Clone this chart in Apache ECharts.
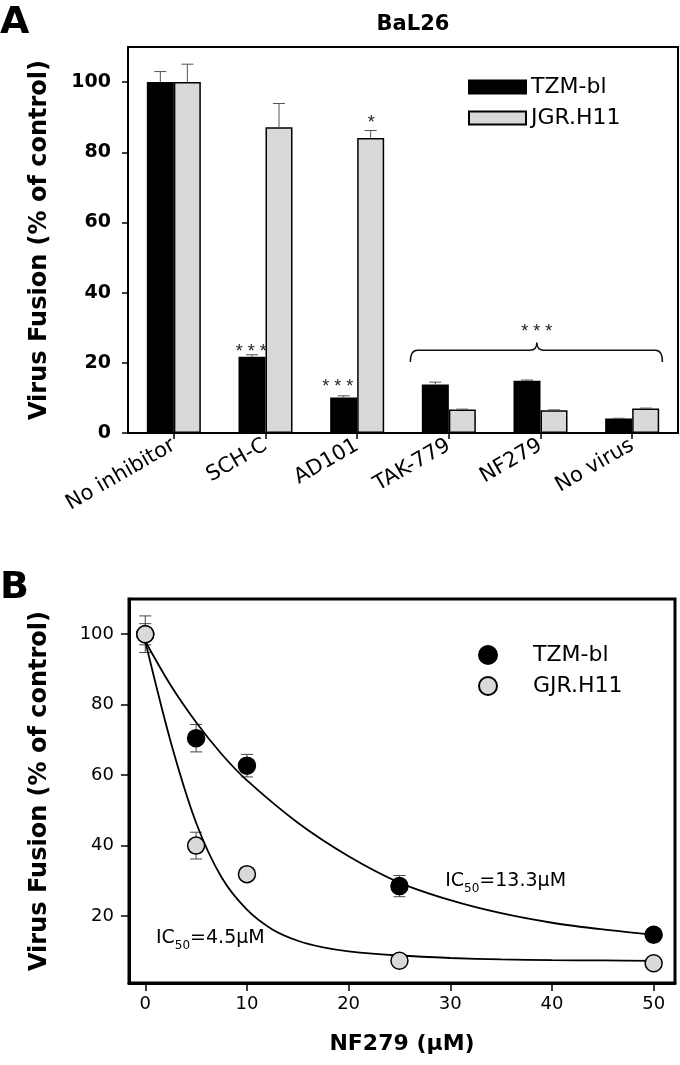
<!DOCTYPE html>
<html>
<head>
<meta charset="utf-8">
<script src="https://cdn.jsdelivr.net/npm/echarts@6/dist/echarts.min.js"></script>
<style>
  html, body { margin: 0; padding: 0; background: #fff; }
  #chart { width: 680px; height: 1065px; }
</style>
</head>
<body>
<div id="chart"></div>
<script>
// ---- panel A: BaL26, fusion by inhibitor ----
const categories = ['No inhibitor', 'SCH-C', 'AD101', 'TAK-779', 'NF279', 'No virus'];
const tzmFusion = [100, 21.7, 10.1, 13.8, 14.9, 4.1];
const tzmFusionErr = [3.0, 0.6, 0.5, 0.7, 0.2, 0.1];
const jgrFusion = [100, 87.1, 84.1, 6.7, 6.5, 7.0];
const jgrFusionErr = [5.1, 6.8, 2.1, 0.1, 0.1, 0.1];
const yTicksA = [0, 20, 40, 60, 80, 100];

// significance marks, in category-band units / % values
const starX = [1.345, 2.288, 2.653, 4.458];
const starY = [24.3, 14.1, 89.4, 29.8];
const starText = ['* * *', '* * *', '*', '* * *'];
// bracket over TAK-779..No virus: [left end, tip, right end] and [end level, bar level, tip level]
const bracketX = [3.08, 4.46, 5.83];
const bracketY = [20.2, 23.6, 25.8];

// ---- panel B: NF279 dose response ----
const doseUM = [0, 5, 10, 25, 50];
const tzmDose = [100, 70.5, 62.7, 28.5, 14.7];
const tzmDoseErr = [3.0, 3.9, 3.2, 3.0, 0.5];
const gjrDose = [100, 40.0, 31.9, 7.3, 6.6];
const gjrDoseErr = [5.2, 3.8, 0, 0, 0];
// fitted curves
const tzmFitX = [0, 2.5, 5, 7.5, 10, 15, 20, 25, 30, 35, 40, 45, 50];
const tzmFitY = [98, 85.5, 75, 66, 58.5, 46.5, 37, 29.5, 24.5, 20.8, 18.1, 16.2, 14.7];
const gjrFitX = [0, 2.5, 5, 7.5, 10, 12.5, 15, 17.5, 20, 25, 30, 35, 40, 45, 50];
const gjrFitY = [98, 69.5, 46.5, 31, 21.8, 16.2, 13, 11.1, 10, 8.8, 8.1, 7.7, 7.5, 7.4, 7.3];
const xTicksB = [0, 10, 20, 30, 40, 50];
const yTicksB = [20, 40, 60, 80, 100];
const ic50X = [29.5, 1.05];
const ic50Y = [29.3, 13.2];
const ic50Text = ['13.3', '4.5'];

const FONT = 'DejaVu Sans';
const BAR_W = 27;
const GRAY = '#d9d9d9';

const chart = echarts.init(document.getElementById('chart'));

function barErrors(vals, errs, side) {
  return {
    type: 'custom', xAxisIndex: 0, yAxisIndex: 0, z: 5, silent: true,
    data: vals.map((v, i) => [i, v, errs[i]]),
    renderItem(params, api) {
      const i = api.value(0), v = api.value(1), e = api.value(2);
      const p = api.coord([i, v]);
      const q = api.coord([i, v + e]);
      const x = p[0] + side * BAR_W / 2;
      const st = { stroke: '#555', lineWidth: 1 };
      return { type: 'group', children: [
        { type: 'line', shape: { x1: x, y1: p[1], x2: x, y2: q[1] }, style: st },
        { type: 'line', shape: { x1: x - 6, y1: q[1], x2: x + 6, y2: q[1] }, style: st }
      ] };
    }
  };
}

function pointErrors(ys, errs) {
  return {
    type: 'custom', xAxisIndex: 2, yAxisIndex: 1, z: 2, silent: true,
    data: doseUM.map((x, i) => [x, ys[i], errs[i]]),
    renderItem(params, api) {
      const x = api.value(0), y = api.value(1), e = api.value(2);
      if (!e) return null;
      const up = api.coord([x, y + e]);
      const dn = api.coord([x, y - e]);
      const st = { stroke: '#444', lineWidth: 1 };
      return { type: 'group', children: [
        { type: 'line', shape: { x1: up[0], y1: up[1], x2: dn[0], y2: dn[1] }, style: st },
        { type: 'line', shape: { x1: up[0] - 6, y1: up[1], x2: up[0] + 6, y2: up[1] }, style: st },
        { type: 'line', shape: { x1: dn[0] - 6, y1: dn[1], x2: dn[0] + 6, y2: dn[1] }, style: st }
      ] };
    }
  };
}

const option = {
  animation: false,
  textStyle: { fontFamily: FONT, color: '#000' },
  title: [
    { text: 'A', left: 0, top: 4, padding: 0, textStyle: { fontFamily: FONT, fontSize: 38, fontWeight: 'bold', color: '#000' } },
    { text: 'BaL26', left: 408, top: 9, textAlign: 'center', textStyle: { fontFamily: FONT, fontSize: 21, fontWeight: 'bold', color: '#000' } },
    { text: 'B', left: 0, top: 569, padding: 0, textStyle: { fontFamily: FONT, fontSize: 38, fontWeight: 'bold', color: '#000' } }
  ],
  legend: [
    {
      data: ['TZM-bl', 'JGR.H11'], orient: 'vertical', left: 468, top: 76, padding: 0,
      icon: 'rect', itemWidth: 57, itemHeight: 13, itemGap: 9, selectedMode: false,
      textStyle: { fontFamily: FONT, fontSize: 22, color: '#000' }
    },
    {
      data: ['TZM-bl ', 'GJR.H11'], orient: 'vertical', left: 478, top: 644, padding: 0,
      icon: 'circle', itemWidth: 18, itemHeight: 18, itemGap: 9, selectedMode: false,
      textStyle: { fontFamily: FONT, fontSize: 22, color: '#000', padding: [0, 0, 0, 31] }
    }
  ],
  grid: [
    { left: 128, right: 2, top: 47, bottom: 632, show: true, borderColor: '#000', borderWidth: 2 },
    { left: 129, right: 5, top: 599, bottom: 82, show: true, borderColor: '#000', borderWidth: 3 }
  ],
  xAxis: [
    {
      type: 'category', gridIndex: 0, data: categories,
      axisLine: { onZero: false, lineStyle: { color: '#000', width: 2 } },
      axisTick: { show: true, alignWithLabel: true, length: 6, lineStyle: { color: '#000', width: 1.5 } },
      axisLabel: { interval: 0, rotate: 30, margin: 11, fontFamily: FONT, fontSize: 21, color: '#000' }
    },
    { type: 'value', gridIndex: 0, min: 0, max: 6, show: false },
    {
      type: 'value', gridIndex: 1, min: -1.6, max: 52.1,
      name: 'NF279 (μM)', nameLocation: 'middle', nameGap: 50,
      nameTextStyle: { fontFamily: FONT, fontSize: 22, fontWeight: 'bold', color: '#000' },
      splitLine: { show: false },
      axisLine: { show: true, onZero: false, lineStyle: { color: '#000', width: 3 } },
      axisTick: { show: true, customValues: xTicksB, length: 8, lineStyle: { color: '#000', width: 1.5 } },
      axisLabel: { customValues: xTicksB, margin: 12, fontFamily: FONT, fontSize: 18, color: '#000' }
    }
  ],
  yAxis: [
    {
      type: 'value', gridIndex: 0, min: 0, max: 110,
      name: 'Virus Fusion (% of control)', nameLocation: 'middle', nameGap: 76,
      nameTextStyle: { fontFamily: FONT, fontSize: 24, fontWeight: 'bold', color: '#000' },
      splitLine: { show: false },
      axisLine: { show: true, onZero: false, lineStyle: { color: '#000', width: 2 } },
      axisTick: { show: true, customValues: yTicksA, length: 6, lineStyle: { color: '#000', width: 1.5 } },
      axisLabel: { customValues: yTicksA, margin: 17, fontFamily: FONT, fontSize: 19, fontWeight: 'bold', color: '#000' }
    },
    {
      type: 'value', gridIndex: 1, min: 1, max: 110,
      name: 'Virus Fusion (% of control)', nameLocation: 'middle', nameGap: 77,
      nameTextStyle: { fontFamily: FONT, fontSize: 24, fontWeight: 'bold', color: '#000' },
      splitLine: { show: false },
      axisLine: { show: true, onZero: false, lineStyle: { color: '#000', width: 3 } },
      axisTick: { show: true, customValues: yTicksB, length: 8, lineStyle: { color: '#000', width: 1.5 } },
      axisLabel: { customValues: yTicksB, margin: 15, fontFamily: FONT, fontSize: 18, color: '#000' }
    }
  ],
  series: [
    {
      name: 'TZM-bl', type: 'bar', xAxisIndex: 0, yAxisIndex: 0, data: tzmFusion,
      barWidth: BAR_W, barGap: '0%',
      itemStyle: { color: '#000', borderColor: '#000', borderWidth: 1.5 }
    },
    {
      name: 'JGR.H11', type: 'bar', xAxisIndex: 0, yAxisIndex: 0, data: jgrFusion,
      barWidth: BAR_W, barGap: '0%',
      itemStyle: { color: GRAY, borderColor: '#000', borderWidth: 1.5 }
    },
    barErrors(tzmFusion, tzmFusionErr, -1),
    barErrors(jgrFusion, jgrFusionErr, 1),
    {
      type: 'custom', xAxisIndex: 1, yAxisIndex: 0, z: 6, silent: true,
      data: starX.map((x, i) => [x, starY[i]]),
      renderItem(params, api) {
        const p = api.coord([api.value(0), api.value(1)]);
        return { type: 'text', x: p[0], y: p[1] + 4, style: {
          text: starText[params.dataIndex], fill: '#222', fontSize: 18,
          fontFamily: 'Liberation Sans', align: 'center', verticalAlign: 'middle' } };
      }
    },
    {
      type: 'custom', xAxisIndex: 1, yAxisIndex: 0, z: 6, silent: true,
      data: [[bracketX[1], bracketY[1]]],
      renderItem(params, api) {
        const L = api.coord([bracketX[0], bracketY[0]]);
        const M = api.coord([bracketX[1], bracketY[1]]);
        const T = api.coord([bracketX[1], bracketY[2]]);
        const R = api.coord([bracketX[2], bracketY[0]]);
        const r = 7, yl = M[1];
        const d = `M${L[0]} ${L[1]} Q${L[0]} ${yl} ${L[0] + r} ${yl} L${M[0] - r} ${yl} ` +
          `Q${M[0]} ${yl} ${M[0]} ${T[1]} Q${M[0]} ${yl} ${M[0] + r} ${yl} ` +
          `L${R[0] - r} ${yl} Q${R[0]} ${yl} ${R[0]} ${R[1]}`;
        return { type: 'path', shape: { pathData: d }, style: { stroke: '#111', fill: null, lineWidth: 1.5 } };
      }
    },
    {
      type: 'line', xAxisIndex: 2, yAxisIndex: 1, silent: true, z: 3,
      data: tzmFitX.map((x, i) => [x, tzmFitY[i]]), smooth: 0.3, showSymbol: false,
      lineStyle: { color: '#000', width: 1.8 }
    },
    {
      type: 'line', xAxisIndex: 2, yAxisIndex: 1, silent: true, z: 3,
      data: gjrFitX.map((x, i) => [x, gjrFitY[i]]), smooth: 0.3, showSymbol: false,
      lineStyle: { color: '#000', width: 1.8 }
    },
    pointErrors(tzmDose, tzmDoseErr),
    pointErrors(gjrDose, gjrDoseErr),
    {
      name: 'TZM-bl ', type: 'scatter', xAxisIndex: 2, yAxisIndex: 1, z: 4,
      data: doseUM.map((x, i) => [x, tzmDose[i]]), symbol: 'circle', symbolSize: 17,
      itemStyle: { color: '#000', borderColor: '#000', borderWidth: 1.5, opacity: 1 }
    },
    {
      name: 'GJR.H11', type: 'scatter', xAxisIndex: 2, yAxisIndex: 1, z: 4,
      data: doseUM.map((x, i) => [x, gjrDose[i]]), symbol: 'circle', symbolSize: 17,
      itemStyle: { color: GRAY, borderColor: '#000', borderWidth: 1.5, opacity: 1 }
    },
    {
      type: 'custom', xAxisIndex: 2, yAxisIndex: 1, z: 6, silent: true,
      data: ic50X.map((x, i) => [x, ic50Y[i]]),
      renderItem(params, api) {
        const p = api.coord([api.value(0), api.value(1)]);
        return { type: 'text', x: p[0], y: p[1], style: {
          text: `{n|IC}{s|50}{n|=${ic50Text[params.dataIndex]}μM}`,
          align: 'left', verticalAlign: 'middle',
          rich: {
            n: { fontSize: 19, fontFamily: FONT, fill: '#000', padding: [0, 0, 4, 0], verticalAlign: 'bottom' },
            s: { fontSize: 12, fontFamily: FONT, fill: '#000', verticalAlign: 'bottom' }
          } } };
      }
    }
  ]
};

chart.setOption(option);
</script>
</body>
</html>
